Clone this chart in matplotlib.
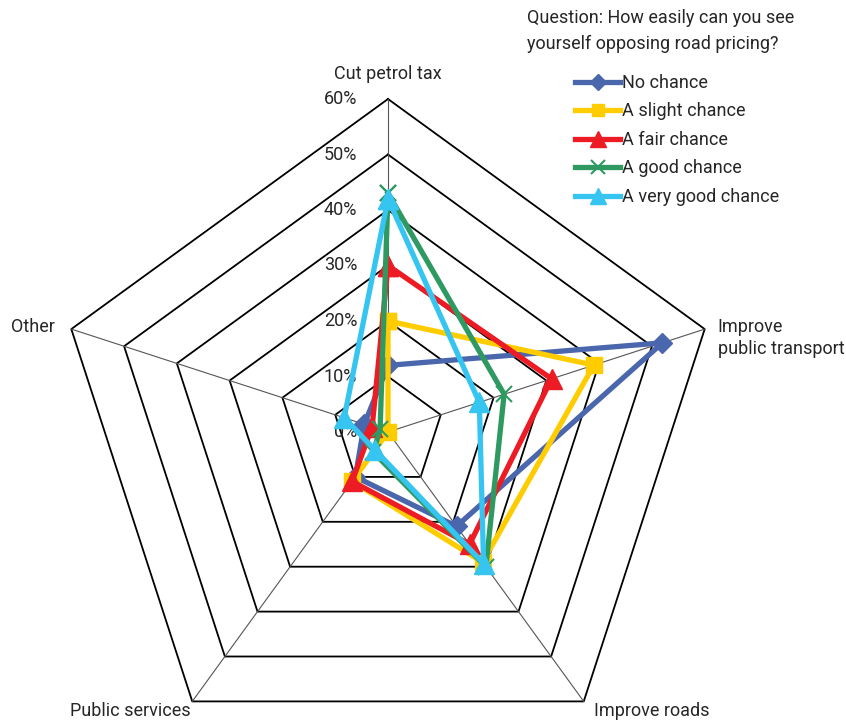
import numpy as np
import matplotlib
matplotlib.use("Agg")
import matplotlib.pyplot as plt
from matplotlib.lines import Line2D

plt.rcParams['font.family'] = ['Roboto', 'DejaVu Sans']

# Answer categories (clockwise from the top)
categories = ["Cut petrol tax", "Improve\npublic transport", "Improve roads",
              "Public services", "Other"]

series_names = ["No chance", "A slight chance", "A fair chance",
                "A good chance", "A very good chance"]

# Share of respondents (%) per category
no_chance = [12, 52, 21, 10, 4.5]
slight_chance = [20, 39, 29, 11, 0]
fair_chance = [30, 31, 25, 11, 3]
good_chance = [43, 22, 30, 4.5, 1.5]
very_good_chance = [42, 17.3, 29.3, 4, 8.3]

ring_levels = [0, 10, 20, 30, 40, 50, 60]
ring_labels = ["0%", "10%", "20%", "30%", "40%", "50%", "60%"]

colors = ["#4A66AC", "#FFCC00", "#ED1C24", "#2E9A62", "#35C5F0"]
markers = ["D", "s", "^", "x", "^"]
msizes = [10, 11, 14, 12, 14]

FS = 13
TXT = "#262626"

W, H, DPI = 846, 722, 100
fig = plt.figure(figsize=(W / DPI, H / DPI), dpi=DPI)

cx, cy, R = 388, 432, 333
ax = fig.add_axes([(cx - R) / W, (H - cy - R) / H, 2 * R / W, 2 * R / H],
                  projection="polar")
ax.set_theta_zero_location("N")
ax.set_theta_direction(-1)
ax.set_ylim(0, 60)
ax.grid(False)
ax.spines["polar"].set_visible(False)
ax.set_xticks([])
ax.set_yticks([])
ax.patch.set_visible(False)

n = len(categories)
theta = np.arange(n) * 2 * np.pi / n
theta_closed = np.append(theta, theta[0])

# Polygon rings and spokes
for lvl in ring_levels[1:]:
    ax.plot(theta_closed, [lvl] * (n + 1), color="black", lw=1.3, zorder=1,
            clip_on=False)
for t in theta:
    ax.plot([t, t], [0, 60], color="#555555", lw=0.8, zorder=1, clip_on=False)

# Ring value labels along the top spoke
for lvl, lab in zip(ring_levels, ring_labels):
    ax.annotate(lab, xy=(0, lvl), xytext=(-31, 0), textcoords="offset pixels",
                ha="right", va="center", fontsize=FS, color=TXT,
                annotation_clip=False)

# Category labels at the outer vertices
label_specs = [((0, 25), "center", "center"),
               ((13, -9), "left", "center"),
               ((10, -10), "left", "center"),
               ((-2, -10), "right", "center"),
               ((-16, 2), "right", "center")]
for t, cat, (off, ha, va) in zip(theta, categories, label_specs):
    ax.annotate(cat, xy=(t, 60), xytext=off, textcoords="offset pixels",
                ha=ha, va=va, fontsize=FS, color=TXT,
                annotation_clip=False, linespacing=1.3)

all_series = [no_chance, slight_chance, fair_chance, good_chance, very_good_chance]
handles = []
for vals, name, c, m, ms in zip(all_series, series_names, colors, markers, msizes):
    v = np.append(vals, vals[0])
    mew = 1.5 if m == "x" else 1
    ax.plot(theta_closed, v, color=c, lw=3.8, marker=m, markersize=ms,
            markeredgewidth=mew, markeredgecolor=c, markerfacecolor=c,
            zorder=3, clip_on=False)
    handles.append(Line2D([], [], color=c, lw=3.8, marker=m, markersize=ms * 0.8,
                          markeredgewidth=mew, markeredgecolor=c,
                          markerfacecolor=c))

fig.text(527 / W, 1 - 31 / H,
         "Question: How easily can you see\nyourself opposing road pricing?",
         ha="left", va="center", fontsize=FS, color=TXT, linespacing=1.6)

fig.legend(handles, series_names, loc="upper left",
           bbox_to_anchor=(575 / W, 1 - 74 / H), bbox_transform=fig.transFigure,
           frameon=False, fontsize=FS, handlelength=2.5, handletextpad=0.1,
           labelspacing=0.58, borderpad=0, borderaxespad=0, numpoints=1,
           labelcolor=TXT)

fig.savefig("out.png", dpi=DPI)
